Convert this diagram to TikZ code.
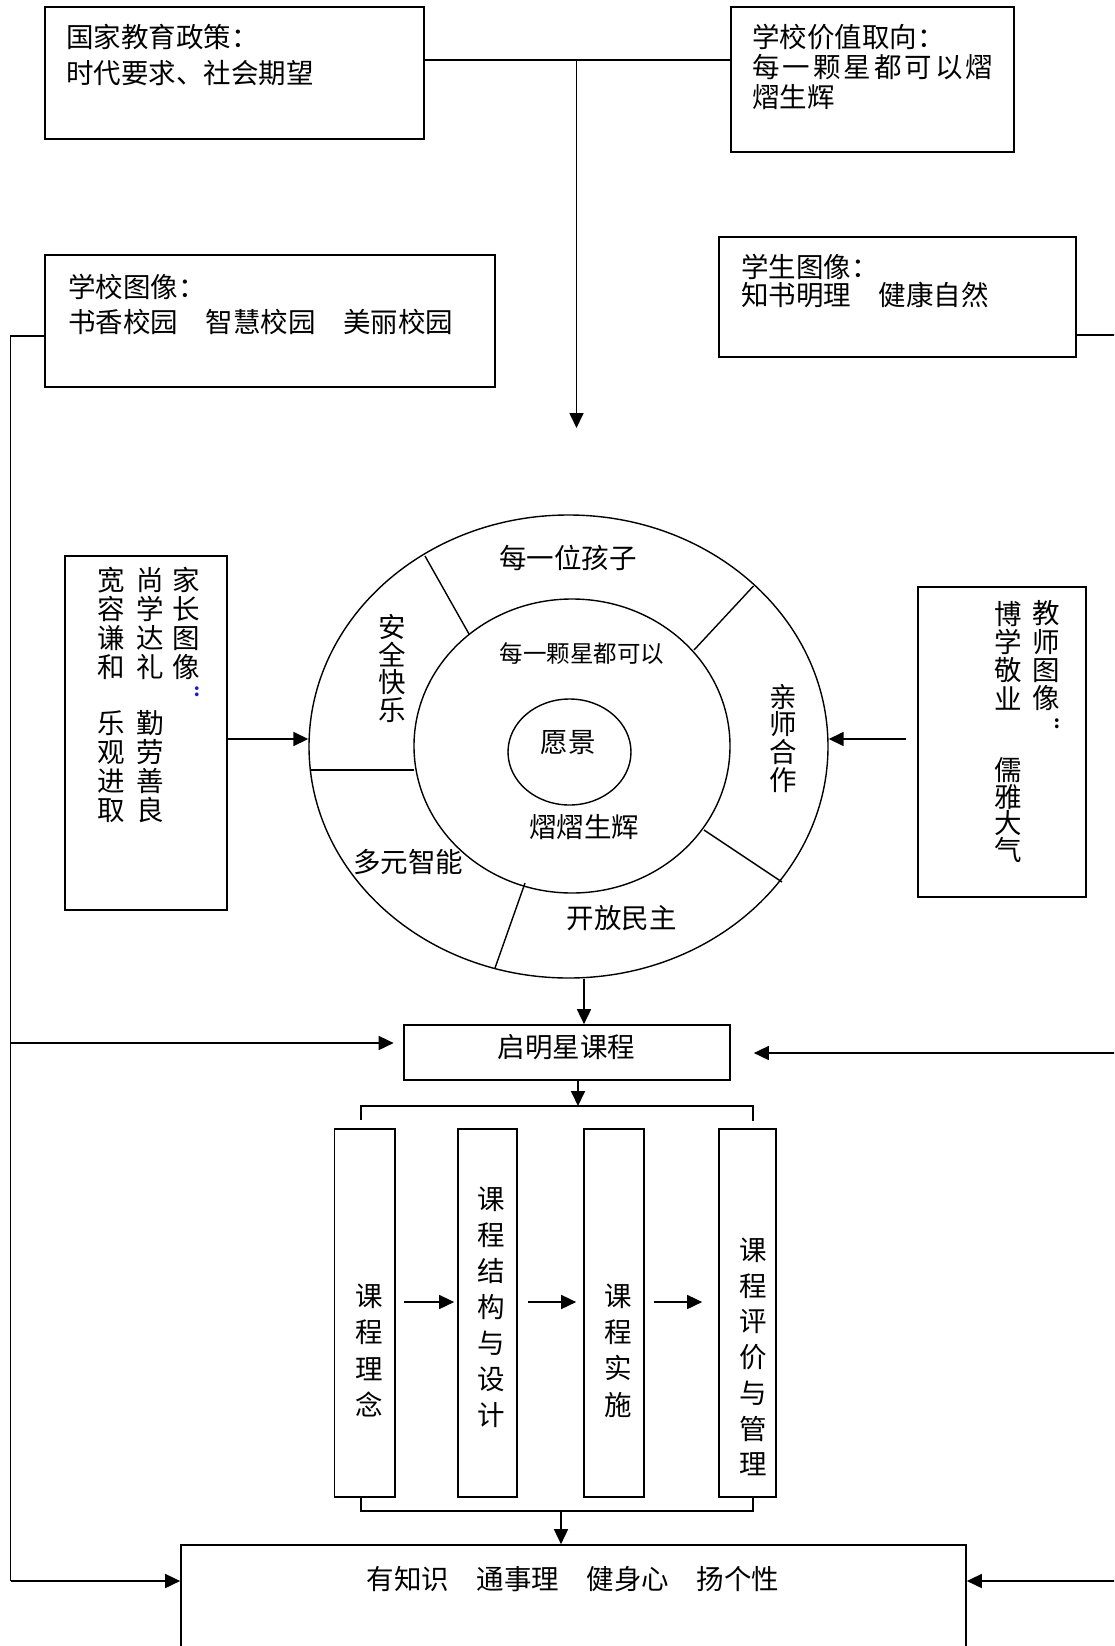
\documentclass[tikz,border=0pt]{standalone}
\usepackage{fontspec}
\setmainfont{Noto Sans CJK SC}
\usetikzlibrary{arrows.meta,shapes.geometric}
\definecolor{colonblue}{RGB}{20,20,235}
\newcommand\vcolon[1]{\smash{\rlap{\hspace*{-6.6pt}\raisebox{-19.5pt}{\fontsize{17}{17}\selectfont\bfseries\textcolor{#1}{:}}}}}
\begin{document}
\begin{tikzpicture}[x=1pt,y=-1pt,
  box/.style={draw, line width=1.7pt, inner sep=0pt},
  ell/.style={draw, ellipse, line width=1.4pt, inner sep=0pt},
  txt/.style={inner sep=0pt, font=\fontsize{27.5}{29}\selectfont},
  smalltxt/.style={inner sep=0pt, font=\fontsize{23.5}{25}\selectfont},
  vt/.style={inner sep=0pt, align=center, font=\fontsize{27.5}{#1}\selectfont},
  ln/.style={line width=1.7pt},
  thinln/.style={line width=1.2pt},
  divline/.style={line width=1.4pt},
  arr/.style={line width=1.7pt, -{Triangle[length=15pt,width=14pt]}}
]
\useasboundingbox (0,0) rectangle (1114,1646);
\clip (0,0) rectangle (1114,1646);

% ---------- top boxes ----------
\node[box, minimum width=379pt, minimum height=132pt] (gj) at (234.5,73) {};
\node[txt, anchor=west] (gj1) at (66,37.3) {国家教育政策：};
\node[txt, anchor=west] (gj2) at (66,73.3) {时代要求、社会期望};

\node[box, minimum width=283pt, minimum height=145pt] (jz) at (872.5,79.5) {};
\node[txt, anchor=west] (jz1) at (752,36.7) {学校价值取向：};
\node[txt, anchor=west] (jz2) at (752,66.7) {\makebox[241pt][s]{每\hfill 一\hfill 颗\hfill 星\hfill 都\hfill 可\hfill 以\hfill 熠}};
\node[txt, anchor=west] (jz3) at (752,96.7) {熠生辉};

\node[box, minimum width=450pt, minimum height=132pt] (xx) at (270,321) {};
\node[txt, anchor=west] (xx1) at (68,286.7) {学校图像：};
\node[txt, anchor=west] (xx2) at (68,321.7) {书香校园　智慧校园　美丽校园};

\node[box, minimum width=357pt, minimum height=120pt] (xs) at (897.5,297) {};
\node[txt, anchor=west] (xs1) at (741,266.7) {学生图像：};
\node[txt, anchor=west] (xs2) at (741,295) {知书明理　健康自然};

% top connectors
\coordinate (vis) at (576.5,428);
\draw[ln] (gj.east |- 0,60.3) -- (jz.west |- 0,60.3);
\draw[arr] (vis |- 0,60.3) -- (vis);

% ---------- vision ellipses ----------
\node[ell, minimum width=519pt, minimum height=463pt] (outer) at (568.5,746.5) {};
\node[ell, minimum width=316pt, minimum height=294pt] (mid) at (572,746) {};
\node[ell, minimum width=123pt, minimum height=106pt] (inn) at (569.5,752) {};

\draw[divline] (425,556) -- (469,634);
\draw[divline] (753.5,586) -- (694,650);
\draw[divline] (311,770) -- (414,770);
\draw[divline] (704,830) -- (782,882);
\draw[divline] (525,883) -- (495,968);

\node[txt] (e1) at (568,558) {每一位孩子};
\node[smalltxt] (e2) at (582,654) {每一颗星都可以};
\node[txt] (e3) at (568,743) {愿景};
\node[txt] (e4) at (584,826.7) {熠熠生辉};
\node[txt] (e5) at (408,861.7) {多元智能};
\node[txt] (e6) at (621.5,918) {开放民主};
\node[vt=27.7] (e7) at (391.8,668.5) {安\\全\\快\\乐};
\node[vt=27.8] (e8) at (783,738.3) {亲\\师\\合\\作};

% ---------- family box ----------
\node[box, minimum width=162pt, minimum height=354pt] (jia) at (146,733) {};
\node[vt=28.9] (jia1) at (186.7,623.3) {家\\长\\图\\像\vcolon{colonblue}};
\node[vt=28.9] (jia2) at (150,623.3) {尚\\学\\达\\礼};
\node[vt=28.9] (jia3) at (150,766.5) {勤\\劳\\善\\良};
\node[vt=28.9] (jia4) at (111.7,623.3) {宽\\容\\谦\\和};
\node[vt=28.9] (jia5) at (111.7,766.5) {乐\\观\\进\\取};
\draw[arr] (jia.east |- 0,739) -- (outer.west |- 0,739);

% ---------- teacher box ----------
\node[box, minimum width=168pt, minimum height=310pt] (js) at (1002,742) {};
\node[vt=28.3] (js1) at (1046.7,655.8) {教\\师\\图\\像\vcolon{black}};
\node[vt=28.3] (js2) at (1008.3,655.5) {博\\学\\敬\\业};
\node[vt=26.7] (js3) at (1008.3,810) {儒\\雅\\大\\气};
\draw[arr, shorten <=11pt] (js.west |- 0,739) -- (outer.east |- 0,739);

% ---------- curriculum ----------
\node[box, minimum width=326pt, minimum height=55pt] (qmx) at (567,1052.5) {};
\node[txt] (qmxt) at (566.7,1047) {启明星课程};
\draw[arr] (outer.south -| 584,0) -- (qmx.north -| 584,0);

\node[box, minimum width=60.5pt, minimum height=368pt] (k1) at (364.75,1313) {};
\node[box, minimum width=59pt, minimum height=368pt] (k2) at (487.5,1313) {};
\node[box, minimum width=60pt, minimum height=368pt] (k3) at (614,1313) {};
\node[box, minimum width=57pt, minimum height=368pt] (k4) at (747.5,1313) {};
\node[vt=36.3] (k1t) at (369.4,1350.5) {课\\程\\理\\念};
\node[vt=36] (k2t) at (491.6,1307) {课\\程\\结\\构\\与\\设\\计};
\node[vt=36.3] (k3t) at (618,1350.5) {课\\程\\实\\施};
\node[vt=35.7] (k4t) at (753,1357) {课\\程\\评\\价\\与\\管\\理};

\draw[arr, shorten <=8.5pt, shorten >=3pt] (k1.east |- 0,1302) -- (k2.west |- 0,1302);
\draw[arr, shorten <=10pt, shorten >=7pt] (k2.east |- 0,1302) -- (k3.west |- 0,1302);
\draw[arr, shorten <=9pt, shorten >=16pt] (k3.east |- 0,1302) -- (k4.west |- 0,1302);

\draw[arr] (qmx.south -| 578,0) -- (578,1106);
\draw[thinln] (k1.north -| 361,0) ++(0,-8) -- (361,1106) -- (753,1106) -- (753,1121);
\draw[ln] (k1.south -| 361,0) -- (361,1511) -- (753,1511) -- (k4.south -| 753,0);

% ---------- outcome box ----------
\node[box, minimum width=785pt, minimum height=140pt] (bot) at (573.5,1615) {};
\node[txt] (bott) at (573,1579) {有知识　通事理　健身心　扬个性};
\draw[arr] (561,1511) -- (bot.north -| 561,0);

% ---------- side feedback lines ----------
\coordinate (L1) at (10.5,336);
\coordinate (L2) at (10.5,1043);
\coordinate (L3) at (10.5,1581);
\draw[ln] (xx.west |- L1) -- (L1) -- (L3);
\draw[arr, shorten >=9.5pt] (L2) -- (qmx.west |- L2);
\draw[arr] (L3) -- (bot.west |- L3);

\coordinate (R1) at (1125,335);
\coordinate (R2) at (1125,1053);
\coordinate (R3) at (1125,1581);
\draw[ln] (xs.east |- R1) -- (R1) -- (R3);
\draw[arr, shorten >=23pt] (R2) -- (qmx.east |- R2);
\draw[arr] (R3) -- (bot.east |- R3);
\end{tikzpicture}
\end{document}
